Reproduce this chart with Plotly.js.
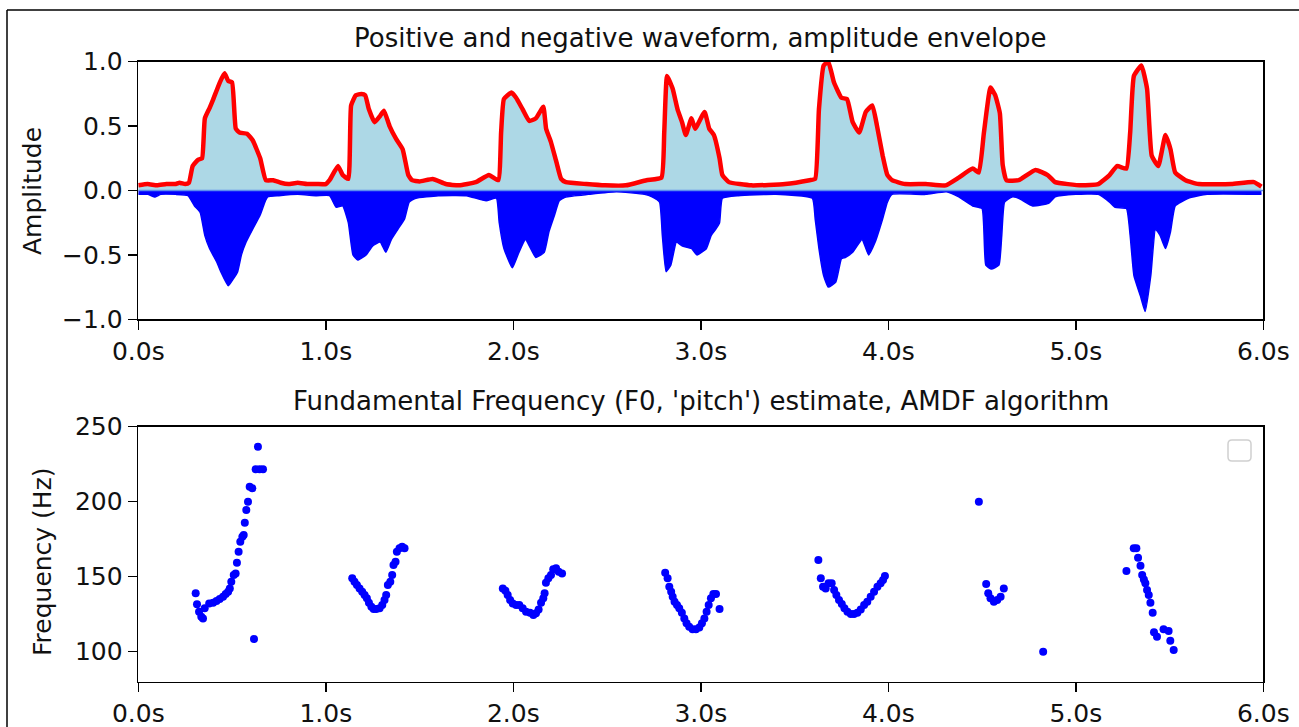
<!DOCTYPE html>
<html>
<head>
<meta charset="utf-8">
<script src="https://cdn.plot.ly/plotly-3.0.1.min.js"></script>
<style>html,body{margin:0;padding:0;background:#fff;}#chart{width:1299px;height:727px;}</style>
</head>
<body>
<div id="chart"></div>
<script>
// ---- Data ----
const timeTickVals = [0, 1, 2, 3, 4, 5, 6];
const timeTickText = ["0.0s", "1.0s", "2.0s", "3.0s", "4.0s", "5.0s", "6.0s"];
const ampTickVals = [-1, -0.5, 0, 0.5, 1];
const ampTickText = ["\u22121.0", "\u22120.5", "0.0", "0.5", "1.0"];
const freqTickVals = [100, 150, 200, 250];
const freqTickText = ["100", "150", "200", "250"];

// positive waveform peaks / amplitude envelope (red line)
const posTime = [0.00,0.05,0.10,0.15,0.20,0.22,0.25,0.27,0.29,0.32,0.34,0.355,0.38,0.40,0.435,0.46,0.48,0.50,0.52,0.54,0.58,0.61,0.65,0.68,0.72,0.76,0.80,0.85,0.90,0.95,1.00,
  1.02,1.065,1.09,1.12,1.135,1.16,1.19,1.21,1.23,1.26,1.29,1.31,1.34,1.375,1.41,1.44,1.46,1.50,1.57,1.64,1.71,1.80,1.87,1.92,
  1.935,1.95,1.99,2.015,2.05,2.085,2.12,2.16,2.175,2.20,2.23,2.255,2.28,2.39,2.49,2.60,2.71,2.79,
  2.805,2.82,2.85,2.876,2.90,2.92,2.95,2.97,3.02,3.045,3.07,3.10,3.115,3.15,3.27,3.45,3.58,3.61,
  3.63,3.655,3.68,3.71,3.75,3.78,3.81,3.845,3.88,3.915,3.94,3.97,3.995,4.02,4.09,4.20,4.306,4.376,4.45,4.483,
  4.51,4.545,4.57,4.595,4.61,4.63,4.695,4.785,4.85,4.89,5.03,5.12,5.18,5.22,5.27,
  5.29,5.31,5.35,5.38,5.405,5.44,5.478,5.505,5.53,5.585,5.655,5.83,5.95,5.99];
const posAmp = [0.04,0.05,0.04,0.05,0.05,0.06,0.05,0.06,0.19,0.24,0.25,0.56,0.64,0.71,0.84,0.91,0.85,0.84,0.48,0.45,0.44,0.39,0.25,0.08,0.08,0.06,0.05,0.06,0.05,0.05,0.05,
  0.08,0.19,0.12,0.09,0.66,0.74,0.75,0.74,0.63,0.53,0.58,0.62,0.50,0.40,0.32,0.12,0.08,0.07,0.09,0.05,0.04,0.065,0.12,0.08,
  0.45,0.71,0.76,0.72,0.63,0.54,0.56,0.65,0.48,0.38,0.22,0.09,0.065,0.05,0.04,0.04,0.08,0.10,
  0.45,0.89,0.79,0.63,0.53,0.43,0.56,0.48,0.61,0.48,0.43,0.25,0.12,0.065,0.04,0.05,0.08,0.09,
  0.63,0.97,1.0,0.84,0.72,0.71,0.53,0.45,0.61,0.66,0.50,0.27,0.12,0.08,0.05,0.05,0.04,0.10,0.17,0.14,
  0.45,0.80,0.74,0.60,0.20,0.08,0.08,0.16,0.12,0.065,0.04,0.05,0.12,0.19,0.17,
  0.45,0.89,0.97,0.79,0.27,0.19,0.43,0.32,0.14,0.08,0.05,0.05,0.065,0.03];

// negative waveform peaks
const negTime = [0.00,0.05,0.09,0.12,0.20,0.265,0.30,0.33,0.355,0.38,0.42,0.44,0.48,0.505,0.53,0.55,0.575,0.61,0.65,0.675,0.69,0.75,0.85,0.95,
  1.02,1.055,1.09,1.12,1.145,1.17,1.215,1.25,1.29,1.32,1.35,1.385,1.42,1.445,1.48,1.60,1.75,1.855,1.91,
  1.925,1.95,1.995,2.03,2.065,2.12,2.165,2.19,2.22,2.245,2.28,2.40,2.55,2.70,2.74,2.78,
  2.795,2.815,2.84,2.87,2.90,2.95,2.98,3.03,3.055,3.08,3.10,3.115,3.20,3.40,3.595,
  3.61,3.63,3.655,3.68,3.72,3.75,3.77,3.81,3.86,3.895,3.93,3.97,3.995,4.02,4.20,4.31,4.376,4.45,4.50,
  4.52,4.55,4.59,4.605,4.62,4.66,4.695,4.77,4.855,4.89,5.00,5.12,5.18,5.21,5.27,
  5.29,5.31,5.345,5.37,5.40,5.425,5.45,5.478,5.505,5.53,5.60,5.70,5.99];
const negAmp = [-0.03,-0.03,-0.05,-0.03,-0.03,-0.04,-0.12,-0.17,-0.35,-0.45,-0.56,-0.63,-0.74,-0.69,-0.63,-0.50,-0.40,-0.30,-0.19,-0.09,-0.05,-0.04,-0.03,-0.04,
  -0.04,-0.13,-0.12,-0.25,-0.50,-0.54,-0.50,-0.43,-0.40,-0.48,-0.38,-0.30,-0.22,-0.09,-0.06,-0.04,-0.04,-0.08,-0.06,
  -0.25,-0.45,-0.60,-0.48,-0.38,-0.52,-0.48,-0.32,-0.19,-0.08,-0.05,-0.03,-0.01,-0.03,-0.05,-0.09,
  -0.35,-0.63,-0.58,-0.40,-0.43,-0.45,-0.50,-0.45,-0.35,-0.30,-0.25,-0.06,-0.04,-0.03,-0.06,
  -0.22,-0.45,-0.66,-0.75,-0.71,-0.53,-0.52,-0.48,-0.38,-0.50,-0.40,-0.22,-0.09,-0.03,-0.03,-0.01,-0.05,-0.12,-0.14,
  -0.58,-0.61,-0.58,-0.35,-0.09,-0.05,-0.06,-0.12,-0.10,-0.05,-0.03,-0.03,-0.09,-0.13,-0.14,
  -0.35,-0.66,-0.82,-0.94,-0.66,-0.30,-0.35,-0.45,-0.32,-0.12,-0.06,-0.03,-0.03];

// F0 (pitch) estimates
const pitchTime = [0.306,0.313,0.324,0.336,0.345,0.354,0.378,0.399,0.417,0.434,0.452,0.466,0.479,0.488,0.496,0.509,0.519,0.526,0.535,0.544,0.555,0.562,0.568,0.576,0.585,0.594,0.608,0.617,0.626,0.638,0.647,0.665,
  1.141,1.153,1.166,1.180,1.194,1.207,1.219,1.230,1.243,1.255,1.269,1.287,1.301,1.313,1.322,1.331,1.344,1.354,1.361,1.372,1.379,1.393,1.407,1.420,
  1.944,1.958,1.970,1.983,1.997,2.015,2.032,2.050,2.068,2.089,2.107,2.121,2.135,2.148,2.160,2.167,2.174,2.187,2.201,2.213,2.228,2.242,2.260,
  2.810,2.823,2.832,2.842,2.850,2.860,2.873,2.885,2.899,2.912,2.924,2.938,2.956,2.974,2.992,3.006,3.019,3.031,3.042,3.054,3.067,3.081,3.100,
  3.627,3.640,3.652,3.666,3.681,3.698,3.711,3.723,3.737,3.752,3.766,3.782,3.800,3.817,3.835,3.853,3.871,3.888,3.906,3.924,3.942,3.959,3.972,3.982,
  4.483,4.522,4.533,4.545,4.563,4.581,4.599,4.616,
  4.826,
  5.270,5.309,5.323,5.332,5.345,5.354,5.363,5.371,5.380,5.389,5.398,5.410,5.417,5.433,5.468,5.495,5.504,5.522];
const pitchHz = [138.9,131.6,126.7,123.3,122.2,128.9,132.2,132.7,133.8,135.1,136.7,138.4,140.0,142.2,146.7,151.1,152.2,159.3,166.7,173.3,176.7,177.8,186.0,194.4,200.0,210.0,208.9,108.4,221.6,236.7,221.6,221.6,
  148.9,146.7,144.4,142.2,140.0,137.8,135.6,132.7,130.0,128.4,128.4,128.9,131.1,134.4,137.8,144.4,146.7,151.1,157.8,160.0,166.7,168.9,170.0,168.9,
  142.2,140.7,137.8,134.4,132.2,131.1,131.1,128.9,126.7,126.0,124.4,125.6,128.2,132.7,135.6,138.9,146.0,148.9,151.1,154.9,155.6,153.3,152.2,
  152.7,148.9,143.3,140.0,136.7,133.3,131.1,128.9,126.0,122.2,118.9,116.7,115.0,115.0,116.2,118.9,122.2,126.7,131.1,135.6,138.4,138.4,128.5,
  161.1,148.9,143.3,142.2,145.6,145.6,141.1,137.8,134.4,131.8,128.9,126.7,125.1,125.1,126.0,128.2,131.1,133.3,136.7,140.0,143.3,145.6,147.8,150.4,
  200.0,145.1,138.9,135.6,133.3,134.4,136.7,142.2,
  100.0,
  153.8,168.9,168.9,162.7,157.3,151.1,148.2,145.6,141.1,137.8,132.7,126.0,112.9,110.0,114.9,113.8,107.3,101.1];

const topTitle = "Positive and negative waveform, amplitude envelope";
const bottomTitle = "Fundamental Frequency (F0, 'pitch') estimate, AMDF algorithm";
const topYLabel = "Amplitude";
const bottomYLabel = "Frequency (Hz)";

// ---- Layout helpers (pixel -> paper) ----
const W = 1299, H = 727;
const px = v => v / W;
const py = v => 1 - v / H;
const FONT = "DejaVu Sans, Verdana, sans-serif";

const traces = [
  { x: posTime, y: posAmp, type: "scatter", mode: "lines", fill: "tozeroy",
    fillcolor: "#add8e6", line: { width: 0, color: "#add8e6", shape: "spline", smoothing: 0.4 }, xaxis: "x", yaxis: "y", hoverinfo: "skip" },
  { x: negTime, y: negAmp, type: "scatter", mode: "lines", fill: "tozeroy",
    fillcolor: "#0000ff", line: { width: 1.5, color: "#0000ff", shape: "spline", smoothing: 0.4 }, xaxis: "x", yaxis: "y", hoverinfo: "skip" },
  { x: posTime, y: posAmp, type: "scatter", mode: "lines",
    line: { width: 4.5, color: "#ff0000", shape: "spline", smoothing: 0.4 }, xaxis: "x", yaxis: "y" },
  { x: pitchTime, y: pitchHz, type: "scatter", mode: "markers",
    marker: { size: 8, color: "#0000ff", line: { width: 0 } }, xaxis: "x2", yaxis: "y2" }
];

const axisCommon = {
  showline: true, mirror: true, linecolor: "#000", linewidth: 1.6,
  ticks: "outside", ticklen: 9, tickwidth: 1.5, tickcolor: "#000",
  showgrid: false, zeroline: false, fixedrange: true,
  tickfont: { family: FONT, size: 25, color: "#111" }
};

const xDomain = [px(138.3), px(1263.3)];
const legendBox = (() => {
  const x0 = px(1228), x1 = px(1251), y0 = py(461), y1 = py(440);
  const rx = px(4), ry = 4 / H;
  return `M ${x0 + rx},${y0} L ${x1 - rx},${y0} Q ${x1},${y0} ${x1},${y0 + ry} L ${x1},${y1 - ry} Q ${x1},${y1} ${x1 - rx},${y1} L ${x0 + rx},${y1} Q ${x0},${y1} ${x0},${y1 - ry} L ${x0},${y0 + ry} Q ${x0},${y0} ${x0 + rx},${y0} Z`;
})();

const layout = {
  width: W, height: H,
  margin: { l: 0, r: 0, t: 0, b: 0 },
  paper_bgcolor: "#fff", plot_bgcolor: "#fff",
  showlegend: false,
  font: { family: FONT, color: "#111" },
  xaxis: Object.assign({}, axisCommon, { domain: xDomain, range: [0, 6], anchor: "y",
    tickvals: timeTickVals, ticktext: timeTickText }),
  yaxis: Object.assign({}, axisCommon, { domain: [py(319.3), py(61.7)], range: [-1, 1], anchor: "x",
    tickvals: ampTickVals, ticktext: ampTickText }),
  xaxis2: Object.assign({}, axisCommon, { domain: xDomain, range: [0, 6], anchor: "y2",
    tickvals: timeTickVals, ticktext: timeTickText }),
  yaxis2: Object.assign({}, axisCommon, { domain: [py(681.7), py(426.7)], range: [80, 250], anchor: "x2",
    tickvals: freqTickVals, ticktext: freqTickText }),
  shapes: [
    { type: "line", xref: "x", yref: "y", x0: 0, x1: 6, y0: 0, y1: 0, line: { color: "#5b8def", width: 1.5 }, layer: "above" },
    { type: "line", xref: "paper", yref: "paper", x0: px(7), x1: 1, y0: py(10), y1: py(10), line: { color: "#000", width: 1.5 } },
    { type: "line", xref: "paper", yref: "paper", x0: px(7), x1: px(7), y0: py(10), y1: 0, line: { color: "#000", width: 1.5 } },
    { type: "path", xref: "paper", yref: "paper", path: legendBox, line: { color: "#d0d0d0", width: 1.5 }, fillcolor: "rgba(255,255,255,0.8)" }
  ],
  annotations: [
    { text: topTitle, xref: "paper", yref: "paper", x: (xDomain[0] + xDomain[1]) / 2, y: py(38),
      xanchor: "center", yanchor: "middle", showarrow: false, font: { family: FONT, size: 26, color: "#111" } },
    { text: bottomTitle, xref: "paper", yref: "paper", x: (xDomain[0] + xDomain[1]) / 2, y: py(401),
      xanchor: "center", yanchor: "middle", showarrow: false, font: { family: FONT, size: 26, color: "#111" } },
    { text: topYLabel, xref: "paper", yref: "paper", x: px(32), y: py(191), textangle: -90,
      xanchor: "center", yanchor: "middle", showarrow: false, font: { family: FONT, size: 25, color: "#111" } },
    { text: bottomYLabel, xref: "paper", yref: "paper", x: px(42), y: py(562), textangle: -90,
      xanchor: "center", yanchor: "middle", showarrow: false, font: { family: FONT, size: 25, color: "#111" } }
  ]
};

Plotly.newPlot("chart", traces, layout, { displayModeBar: false, staticPlot: true });
</script>
</body>
</html>
